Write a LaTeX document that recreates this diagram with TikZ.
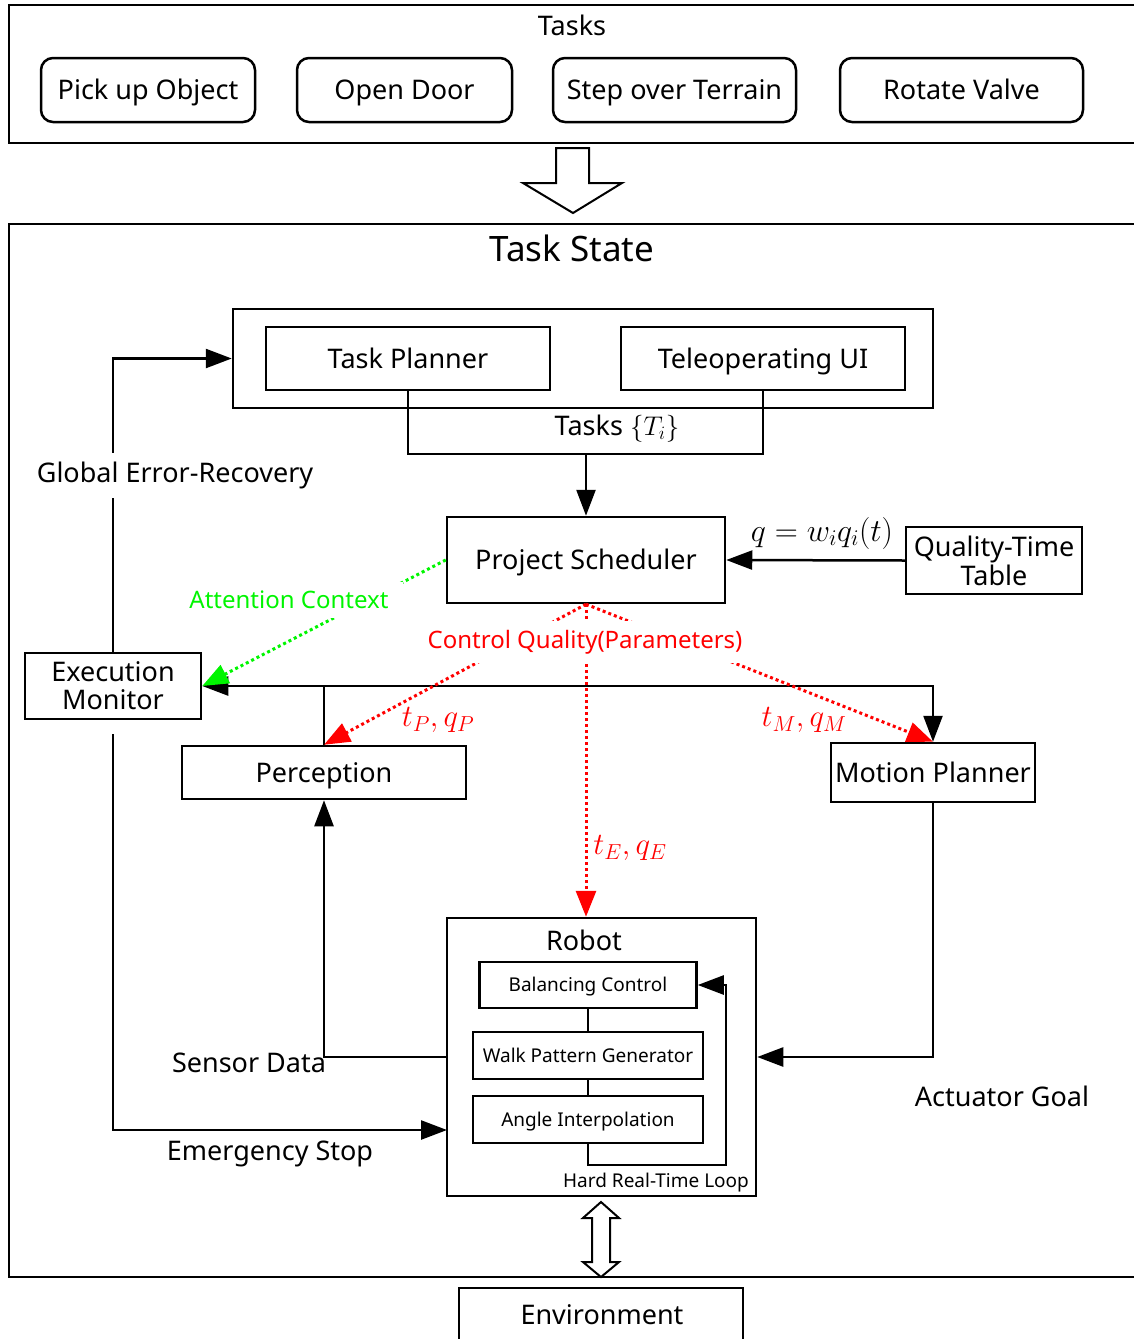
\RequirePackage{fix-cm}
\documentclass[tikz,border=0pt]{standalone}
\usepackage{fontspec}
\setmainfont{Noto Sans}
\usetikzlibrary{arrows.meta}
\definecolor{attn}{RGB}{0,245,0}
\begin{document}
\begin{tikzpicture}[x=1pt,y=-1pt,
  every node/.style={font=\fontsize{27}{29}\selectfont, inner sep=0pt},
  box/.style={draw, line width=2.5pt, align=center},
  onel/.style={text height=22pt, text depth=2.7pt},
  rbox/.style={box, onel, rounded corners=12pt},
  line/.style={line width=2.5pt},
  arr/.style={line, -{Triangle[length=26pt,width=19pt]}},
  redarr/.style={red, line width=3pt, dash pattern=on 3pt off 3pt, -{Triangle[length=26pt,width=20pt]}},
  greenarr/.style={attn, line width=3pt, dash pattern=on 3pt off 3pt, -{Triangle[length=26pt,width=20pt]}},
  lbl/.style={fill=white, inner xsep=10pt, inner ysep=9pt},
  clbl/.style={lbl, font=\fontsize{24}{26}\selectfont},
  mlbl/.style={text=red, font=\fontsize{31}{33}\selectfont},
  small/.style={text height=15.5pt, text depth=1.9pt, font=\fontsize{19}{21}\selectfont},
  bigarrow/.style={line width=2pt, fill=white}
]
\useasboundingbox (0,0) rectangle (1134,1339);

% ---- task catalogue ----
\draw[line] (1134,5) -- (9,5) -- (9,143) -- (1134,143);
\node (taskshead) at (572,25) {Tasks};
\node[rbox, minimum width=214pt, minimum height=64pt] (pick) at (148,90) {Pick up Object};
\node[rbox, minimum width=215pt, minimum height=64pt] (door) at (404.5,90) {Open Door};
\node[rbox, minimum width=243pt, minimum height=64pt] (terrain) at (674.5,90) {Step over Terrain};
\node[rbox, minimum width=243pt, minimum height=64pt] (valve) at (961.5,90) {Rotate Valve};

% hollow arrow into the task state
\draw[bigarrow] (556,148) -- (589,148) -- (589,183) -- (622,183) -- (573,213)
  -- (523,183) -- (556,183) -- cycle;

% ---- task state frame ----
\draw[line] (1134,224) -- (9,224) -- (9,1277) -- (1134,1277);
\node[font=\fontsize{35}{38}\selectfont] (statehead) at (572,248) {Task State};

% planning group
\node[box, minimum width=700pt, minimum height=99pt] (group) at (583,358.5) {};
\node[box, onel, minimum width=284pt, minimum height=63pt] (tp) at (408,358.5) {Task Planner};
\node[box, onel, minimum width=284pt, minimum height=63pt] (tu) at (763,358.5) {Teleoperating UI};
\coordinate (tb) at (586,454);
\draw[line] (tp.south) -- (tp.south |- tb) -- (tu.south |- tb) -- (tu.south);
\node (tasksT) at (617,429) {Tasks $\{T_i\}$};

% scheduler and quality table
\node[box, onel, minimum width=278pt, minimum height=86pt] (ps) at (586,560) {Project Scheduler};
\node[box, minimum width=176pt, minimum height=67pt, font=\fontsize{27}{29}\selectfont] (qt) at (994,560.5) {Quality-Time\\Table};
\draw[arr] (tb) -- (ps.north);
\draw[arr] (qt.west) -- (ps.east);
\node[font=\fontsize{32}{34}\selectfont] (qlbl) at (822,533) {$q = w_i q_i(t)$};

% monitor, perception, motion planning
\node[box, minimum width=176pt, minimum height=66pt, font=\fontsize{27}{28}\selectfont] (em) at (113,686) {Execution\\Monitor};
\node[box, onel, minimum width=284pt, minimum height=53pt] (perc) at (324,772.5) {Perception};
\node[box, onel, minimum width=204pt, minimum height=59pt] (mp) at (933,772.5) {Motion Planner};

% robot with its real-time loop
\node[box, minimum width=309pt, minimum height=278pt] (robot) at (601.5,1057) {};
\node (robotlbl) at (584,940) {Robot};
\node[box, small, minimum width=217pt, minimum height=46pt] (bc) at (588,985) {Balancing Control};
\node[box, small, minimum width=230pt, minimum height=47pt] (wpg) at (588,1055.5) {Walk Pattern Generator};
\node[box, small, minimum width=230pt, minimum height=47pt] (ai) at (588,1119.5) {Angle Interpolation};
\node[small] (hrt) at (656,1181) {Hard Real-Time Loop};
\draw[line] (bc.south) -- (wpg.north);
\draw[line] (wpg.south) -- (ai.north);
\coordinate (loopc) at (726,1165);
\draw[arr] (ai.south) |- (loopc) |- (bc.east);

% environment
\draw[line] (459,1345) -- (459,1288) -- (743,1288) -- (743,1345);
\node (env) at (602,1315) {Environment};
\draw[bigarrow] (601,1202) -- (619,1218) -- (610,1218) -- (610,1262) -- (619,1262)
  -- (601,1277) -- (583,1262) -- (592,1262) -- (592,1218) -- (583,1218) -- cycle;

% black data flows
\draw[arr] (em.north) |- (group.west);
\node[lbl] (gerl) at (175,475) {Global Error-Recovery};
\coordinate (estop) at (447,1130);
\draw[arr, shorten <=14pt] (em.south) |- (estop);
\node (estopl) at (270,1154) {Emergency Stop};
\draw[arr] (robot.west) -| (perc.south);
\node (sensl) at (249,1063) {Sensor Data};
\draw[arr] (mp.south) |- (robot.east);
\node (actl) at (1002,1096) {Actuator Goal};
\coordinate (pj) at (324,686);
\draw[line] (perc.north) -- (pj);
\draw[arr] (pj) -- (em.east);
\draw[arr] (pj) -| (mp.north);

% control quality parameters
\draw[redarr] (ps.south) -- (perc.north);
\draw[redarr] (ps.south) -- (ps.south |- robot.north);
\draw[redarr] (ps.south) -- (mp.north);
\node[clbl, text=red] (cql) at (585,642) {Control Quality(Parameters)};
\node[mlbl] (tpq) at (438,720) {$t_P, q_P$};
\node[mlbl] (tmq) at (804,720) {$t_M, q_M$};
\node[mlbl] (teq) at (630,848) {$t_E, q_E$};

% attention context
\draw[greenarr] (ps.west) -- (em.east);
\node[clbl, text=attn, inner xsep=14pt] (attl) at (289,600) {Attention Context};
\end{tikzpicture}
\end{document}
